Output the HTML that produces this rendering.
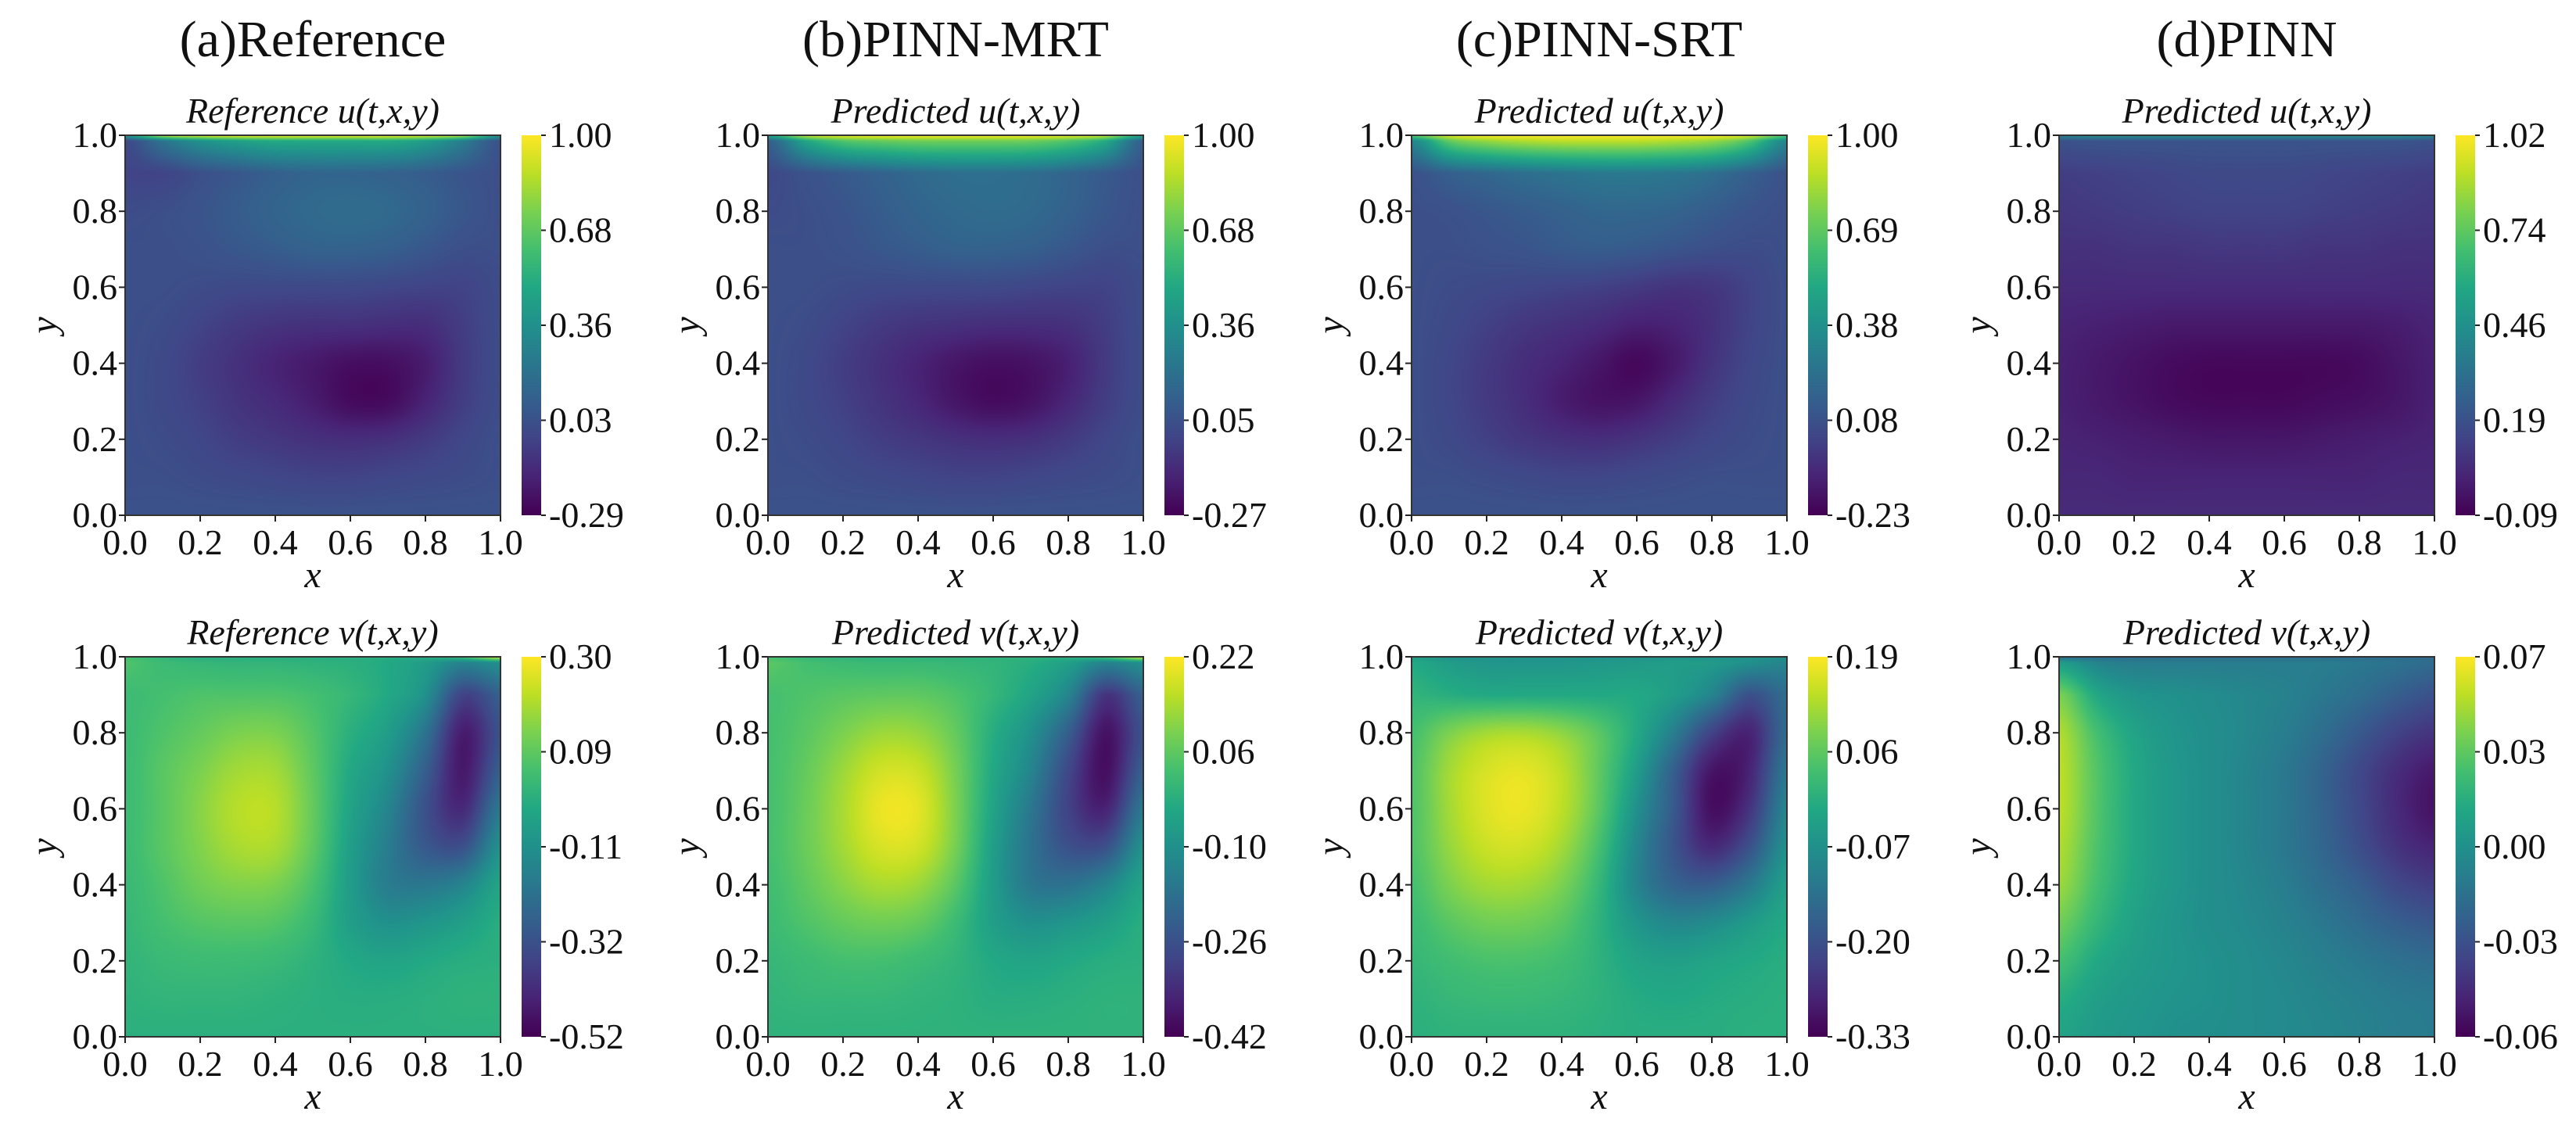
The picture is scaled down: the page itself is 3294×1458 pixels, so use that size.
<!DOCTYPE html>
<html><head><meta charset="utf-8">
<style>
html,body{margin:0;padding:0;background:#fff;}
#fig{position:relative;width:3294px;height:1458px;overflow:hidden;background:#fff;}
canvas{position:absolute;}
svg{position:absolute;left:0;top:0;}
text{font-family:"Liberation Serif",serif;fill:#111;}
</style></head>
<body>
<div id="fig">
<svg id="ov" width="3294" height="1458"></svg>
</div>
<script>
// ---- data (normalized colour level 0..1 within each colorbar range) ----
const gridX = [0,0.1,0.2,0.3,0.4,0.5,0.6,0.7,0.8,0.9,1.0];
const gridY = [1.0,0.985,0.9,0.8,0.7,0.6,0.5,0.4,0.3,0.2,0.1,0.0];
const columnTitles = ["(a)Reference","(b)PINN-MRT","(c)PINN-SRT","(d)PINN"];
const uSubtitles = ["Reference u(t,x,y)","Predicted u(t,x,y)","Predicted u(t,x,y)","Predicted u(t,x,y)"];
const vSubtitles = ["Reference v(t,x,y)","Predicted v(t,x,y)","Predicted v(t,x,y)","Predicted v(t,x,y)"];
const uTicks = [["1.00","0.68","0.36","0.03","-0.29"],["1.00","0.68","0.36","0.05","-0.27"],["1.00","0.69","0.38","0.08","-0.23"],["1.02","0.74","0.46","0.19","-0.09"]];
const vTicks = [["0.30","0.09","-0.11","-0.32","-0.52"],["0.22","0.06","-0.10","-0.26","-0.42"],["0.19","0.06","-0.07","-0.20","-0.33"],["0.07","0.03","0.00","-0.03","-0.06"]];
const axisTicks = ["0.0","0.2","0.4","0.6","0.8","1.0"];

const uRef = [
[0.55,0.9,0.97,1,1,1,1,1,0.97,0.9,0.55],
[0.22,0.38,0.5,0.56,0.6,0.6,0.6,0.6,0.55,0.42,0.25],
[0.2,0.2,0.24,0.27,0.3,0.32,0.32,0.31,0.29,0.26,0.24],
[0.23,0.24,0.26,0.29,0.32,0.34,0.35,0.34,0.31,0.27,0.24],
[0.24,0.24,0.25,0.27,0.29,0.31,0.31,0.3,0.27,0.24,0.24],
[0.24,0.24,0.23,0.22,0.22,0.22,0.22,0.21,0.2,0.2,0.23],
[0.24,0.23,0.2,0.17,0.15,0.14,0.14,0.13,0.13,0.18,0.23],
[0.24,0.22,0.18,0.14,0.1,0.07,0.04,0.04,0.08,0.17,0.23],
[0.24,0.22,0.19,0.15,0.12,0.08,0.03,0.03,0.1,0.18,0.23],
[0.24,0.23,0.21,0.18,0.16,0.14,0.13,0.14,0.17,0.21,0.24],
[0.24,0.24,0.23,0.22,0.21,0.2,0.2,0.21,0.22,0.23,0.24],
[0.25,0.25,0.25,0.25,0.25,0.25,0.25,0.25,0.25,0.25,0.25]];
const uMrt = [
[0.6,0.92,0.98,1,1,1,1,1,0.98,0.92,0.6],
[0.3,0.58,0.72,0.76,0.78,0.78,0.78,0.77,0.72,0.6,0.3],
[0.22,0.25,0.28,0.31,0.34,0.36,0.36,0.35,0.32,0.28,0.24],
[0.23,0.24,0.26,0.29,0.32,0.34,0.35,0.34,0.31,0.27,0.24],
[0.24,0.24,0.25,0.27,0.29,0.31,0.31,0.3,0.27,0.24,0.24],
[0.24,0.24,0.23,0.22,0.22,0.22,0.22,0.21,0.2,0.2,0.23],
[0.24,0.23,0.2,0.17,0.15,0.14,0.13,0.13,0.14,0.18,0.23],
[0.24,0.22,0.18,0.14,0.1,0.06,0.04,0.05,0.09,0.17,0.23],
[0.24,0.22,0.19,0.15,0.11,0.06,0.03,0.05,0.11,0.18,0.23],
[0.24,0.23,0.21,0.18,0.16,0.14,0.13,0.14,0.17,0.21,0.24],
[0.24,0.24,0.23,0.22,0.21,0.2,0.2,0.21,0.22,0.23,0.24],
[0.25,0.25,0.25,0.25,0.25,0.25,0.25,0.25,0.25,0.25,0.25]];
const uSrt = [
[0.75,0.95,1,1,1,1,1,1,1,0.95,0.75],
[0.45,0.75,0.84,0.88,0.9,0.9,0.9,0.88,0.84,0.72,0.45],
[0.25,0.3,0.33,0.36,0.38,0.4,0.4,0.39,0.36,0.3,0.25],
[0.24,0.25,0.27,0.29,0.31,0.33,0.33,0.32,0.29,0.26,0.24],
[0.24,0.24,0.25,0.26,0.28,0.29,0.28,0.26,0.24,0.23,0.24],
[0.24,0.23,0.22,0.21,0.2,0.19,0.17,0.15,0.16,0.2,0.24],
[0.24,0.22,0.19,0.16,0.14,0.12,0.09,0.1,0.14,0.2,0.24],
[0.24,0.21,0.17,0.13,0.1,0.06,0.02,0.07,0.15,0.21,0.24],
[0.24,0.21,0.17,0.13,0.08,0.05,0.06,0.12,0.18,0.22,0.24],
[0.24,0.22,0.19,0.16,0.14,0.13,0.15,0.18,0.21,0.23,0.24],
[0.24,0.24,0.23,0.22,0.21,0.21,0.22,0.23,0.24,0.24,0.24],
[0.25,0.25,0.25,0.25,0.25,0.25,0.25,0.25,0.25,0.25,0.25]];
const uPinn = [
[0.45,0.5,0.5,0.5,0.5,0.5,0.5,0.5,0.5,0.5,0.45],
[0.25,0.26,0.26,0.26,0.26,0.26,0.26,0.26,0.26,0.26,0.25],
[0.18,0.19,0.2,0.21,0.22,0.22,0.22,0.21,0.2,0.19,0.18],
[0.16,0.17,0.18,0.19,0.2,0.2,0.2,0.19,0.18,0.17,0.16],
[0.14,0.14,0.15,0.15,0.16,0.16,0.16,0.15,0.15,0.14,0.14],
[0.12,0.12,0.12,0.12,0.12,0.12,0.12,0.12,0.12,0.12,0.12],
[0.1,0.09,0.08,0.07,0.07,0.07,0.07,0.07,0.07,0.08,0.1],
[0.09,0.07,0.05,0.03,0.02,0.02,0.02,0.02,0.03,0.06,0.09],
[0.09,0.07,0.05,0.03,0.02,0.02,0.02,0.03,0.04,0.06,0.09],
[0.1,0.09,0.08,0.07,0.06,0.06,0.06,0.07,0.08,0.09,0.1],
[0.11,0.11,0.1,0.1,0.1,0.1,0.1,0.1,0.1,0.11,0.11],
[0.12,0.12,0.12,0.12,0.12,0.12,0.12,0.12,0.12,0.12,0.12]];
const vRef = [
[0.7,0.65,0.62,0.62,0.62,0.62,0.62,0.62,0.62,0.7,0.95],
[0.72,0.68,0.66,0.65,0.65,0.64,0.63,0.6,0.55,0.45,0.5],
[0.68,0.7,0.72,0.72,0.72,0.7,0.66,0.6,0.5,0.2,0.3],
[0.68,0.72,0.76,0.8,0.8,0.73,0.63,0.55,0.38,0.08,0.25],
[0.68,0.74,0.8,0.86,0.86,0.75,0.6,0.5,0.3,0.07,0.3],
[0.68,0.74,0.82,0.89,0.89,0.76,0.58,0.45,0.25,0.12,0.4],
[0.68,0.74,0.81,0.87,0.87,0.75,0.56,0.42,0.28,0.25,0.5],
[0.67,0.72,0.78,0.81,0.8,0.71,0.55,0.42,0.4,0.45,0.58],
[0.66,0.7,0.73,0.74,0.73,0.67,0.56,0.5,0.52,0.56,0.62],
[0.65,0.67,0.68,0.68,0.67,0.64,0.6,0.58,0.6,0.62,0.63],
[0.64,0.65,0.65,0.65,0.64,0.63,0.62,0.62,0.63,0.64,0.64],
[0.63,0.63,0.63,0.63,0.63,0.63,0.63,0.63,0.63,0.63,0.63]];
const vMrt = [
[0.7,0.66,0.64,0.64,0.64,0.64,0.64,0.64,0.64,0.72,0.95],
[0.74,0.7,0.68,0.67,0.67,0.66,0.65,0.62,0.56,0.45,0.5],
[0.7,0.72,0.74,0.75,0.75,0.72,0.66,0.58,0.45,0.15,0.3],
[0.7,0.74,0.8,0.85,0.84,0.76,0.62,0.5,0.3,0.05,0.25],
[0.7,0.76,0.85,0.93,0.92,0.79,0.6,0.45,0.22,0.04,0.3],
[0.7,0.77,0.87,0.97,0.96,0.8,0.58,0.4,0.2,0.1,0.4],
[0.7,0.77,0.86,0.94,0.93,0.79,0.56,0.38,0.25,0.25,0.5],
[0.69,0.75,0.82,0.87,0.85,0.74,0.55,0.4,0.38,0.45,0.58],
[0.68,0.72,0.76,0.78,0.76,0.68,0.56,0.5,0.52,0.56,0.62],
[0.66,0.68,0.7,0.7,0.68,0.65,0.6,0.58,0.6,0.62,0.63],
[0.65,0.66,0.66,0.66,0.65,0.64,0.62,0.62,0.63,0.64,0.64],
[0.64,0.64,0.64,0.64,0.64,0.64,0.64,0.64,0.64,0.64,0.64]];
const vSrt = [
[0.55,0.5,0.5,0.5,0.5,0.5,0.5,0.5,0.5,0.5,0.5],
[0.6,0.55,0.52,0.52,0.52,0.53,0.54,0.55,0.54,0.5,0.45],
[0.65,0.62,0.6,0.6,0.6,0.6,0.6,0.55,0.45,0.25,0.35],
[0.7,0.8,0.86,0.87,0.83,0.74,0.6,0.42,0.2,0.1,0.35],
[0.72,0.86,0.94,0.96,0.9,0.75,0.55,0.3,0.06,0.1,0.4],
[0.72,0.86,0.95,0.97,0.9,0.74,0.5,0.28,0.04,0.15,0.45],
[0.72,0.84,0.92,0.93,0.86,0.7,0.46,0.26,0.12,0.25,0.5],
[0.7,0.8,0.86,0.86,0.8,0.66,0.45,0.32,0.3,0.4,0.56],
[0.68,0.74,0.78,0.78,0.74,0.64,0.52,0.46,0.48,0.54,0.6],
[0.66,0.69,0.71,0.71,0.69,0.64,0.58,0.56,0.58,0.6,0.62],
[0.64,0.66,0.67,0.67,0.66,0.64,0.61,0.6,0.61,0.62,0.63],
[0.63,0.64,0.64,0.64,0.64,0.63,0.62,0.62,0.62,0.63,0.63]];
const vPinn = [
[0.35,0.35,0.35,0.35,0.35,0.35,0.35,0.35,0.35,0.35,0.35],
[0.55,0.45,0.42,0.42,0.42,0.42,0.42,0.42,0.4,0.38,0.35],
[0.8,0.6,0.52,0.5,0.48,0.46,0.44,0.4,0.36,0.3,0.25],
[0.88,0.7,0.58,0.52,0.49,0.46,0.42,0.36,0.28,0.2,0.15],
[0.9,0.73,0.6,0.53,0.49,0.45,0.4,0.32,0.22,0.13,0.07],
[0.9,0.73,0.6,0.53,0.49,0.45,0.4,0.32,0.22,0.12,0.05],
[0.88,0.72,0.6,0.53,0.49,0.45,0.4,0.33,0.24,0.15,0.1],
[0.85,0.7,0.59,0.53,0.49,0.46,0.42,0.36,0.3,0.22,0.18],
[0.78,0.66,0.57,0.52,0.49,0.47,0.44,0.4,0.35,0.3,0.27],
[0.7,0.6,0.55,0.52,0.5,0.48,0.46,0.43,0.4,0.37,0.35],
[0.62,0.56,0.53,0.51,0.5,0.48,0.47,0.45,0.43,0.41,0.4],
[0.58,0.54,0.52,0.5,0.49,0.48,0.47,0.46,0.44,0.42,0.41]];
const uFields = [uRef,uMrt,uSrt,uPinn];
const vFields = [vRef,vMrt,vSrt,vPinn];

// ---- layout ----
const colLeft = [160,982,1805,2633];
const rowTop = [173,840];
const PW = 480, PH = 486;
const viridis = [[68,1,84],[72,36,117],[65,68,135],[53,95,141],[42,120,142],[33,145,140],[34,168,132],[68,191,112],[122,209,81],[189,223,38],[253,231,37]];
function cmap(t){t=Math.max(0,Math.min(1,t));const f=t*10;const i=Math.min(9,Math.floor(f));const r=f-i;const a=viridis[i],b=viridis[i+1];return [a[0]+(b[0]-a[0])*r,a[1]+(b[1]-a[1])*r,a[2]+(b[2]-a[2])*r];}
function sx(x){return x*PW;}
function sy(y){return (1-y)*PH;}
function cr(p0,p1,p2,p3,t){return 0.5*((2*p1)+(-p0+p2)*t+(2*p0-5*p1+4*p2-p3)*t*t+(-p0+3*p1-3*p2+p3)*t*t*t);}
function rowInterp(row,i,fx){const n=row.length;const g=k=>row[Math.max(0,Math.min(n-1,k))];return cr(g(i-1),g(i),g(i+1),g(i+2),fx);}
function sample(g,x,y){
  let i=0;while(i<gridX.length-2&&x>gridX[i+1])i++;
  let j=0;while(j<gridY.length-2&&y<gridY[j+1])j++;
  let fx=(x-gridX[i])/(gridX[i+1]-gridX[i]);let fy=(gridY[j]-y)/(gridY[j]-gridY[j+1]);
  fx=Math.max(0,Math.min(1,fx));fy=Math.max(0,Math.min(1,fy));
  // Catmull-Rom along x, linear near lid rows, Catmull-Rom along y elsewhere
  const n=g.length;const R=k=>rowInterp(g[Math.max(0,Math.min(n-1,k))],i,fx);
  if(j<=1) return R(j)*(1-fy)+R(j+1)*fy;
  const p0=(j-1<=1)?R(j)+(R(j)-R(j+1)):R(j-1);
  return cr(p0,R(j),R(j+1),R(j+2),fy);
}
const fig=document.getElementById('fig');
const svg=document.getElementById('ov');
const NS='http://www.w3.org/2000/svg';
function T(x,y,s,size,anchor,style,name){const t=document.createElementNS(NS,'text');t.setAttribute('x',x);t.setAttribute('y',y);t.setAttribute('font-size',size);t.setAttribute('text-anchor',anchor);if(style)t.setAttribute('font-style',style);t.textContent=s;


svg.appendChild(t);return t;}
function L(x1,y1,x2,y2,w,c,name){const l=document.createElementNS(NS,'line');l.setAttribute('x1',x1);l.setAttribute('y1',y1);l.setAttribute('x2',x2);l.setAttribute('y2',y2);l.setAttribute('stroke',c);l.setAttribute('stroke-width',w);


svg.appendChild(l);}

function heat(left,top,g,name){
  const cv=document.createElement('canvas');cv.width=PW;cv.height=PH;cv.style.left=left+'px';cv.style.top=top+'px';
  
  
  const ctx=cv.getContext('2d');const im=ctx.createImageData(PW,PH);
  for(let py=0;py<PH;py++){const y=1-(py+0.5)/PH;for(let px=0;px<PW;px++){const x=(px+0.5)/PW;const c=cmap(sample(g,x,y));const k=(py*PW+px)*4;im.data[k]=c[0];im.data[k+1]=c[1];im.data[k+2]=c[2];im.data[k+3]=255;}}
  ctx.putImageData(im,0,0);fig.insertBefore(cv,svg);
}
function cbar(left,top,ticks,name){
  const cv=document.createElement('canvas');cv.width=25;cv.height=PH;cv.style.left=left+'px';cv.style.top=top+'px';
  
  
  const ctx=cv.getContext('2d');
  for(let py=0;py<PH;py++){const c=cmap(1-py/(PH-1));ctx.fillStyle=`rgb(${c[0]|0},${c[1]|0},${c[2]|0})`;ctx.fillRect(0,py,25,1);}
  fig.insertBefore(cv,svg);
  for(let k=0;k<ticks.length;k++){const yy=top+k*(PH)/(ticks.length-1);
    L(left+25,yy,left+31,yy,2,'#222',name+'-tick');
    T(left+35,yy+15,ticks[k],46,'start',null,name+'-label');}
}
function panel(ci,ri,g,sub,ticks,kind){
  const left=colLeft[ci],top=rowTop[ri];
  const nm=kind+'-panel-'+'abcd'[ci];
  heat(left,top,g,nm+'-heatmap');
  const r=document.createElementNS(NS,'rect');r.setAttribute('x',left);r.setAttribute('y',top);r.setAttribute('width',PW);r.setAttribute('height',PH);r.setAttribute('fill','none');r.setAttribute('stroke','#333');r.setAttribute('stroke-width',2);
  
  
  svg.appendChild(r);
  for(let k=0;k<axisTicks.length;k++){const v=k*0.2;
    const X=left+sx(v);L(X,top+PH,X,top+PH+8,2,'#222',nm+'-x-tick');
    T(X,top+PH+50,axisTicks[k],46,'middle',null,nm+'-x-tick-label');
    const Y=top+sy(v);L(left-8,Y,left,Y,2,'#222',nm+'-y-tick');
    T(left-10,Y+15,axisTicks[k],46,'end',null,nm+'-y-tick-label');}
  T(left+PW/2,top+PH+92,'x',48,'middle','italic',nm+'-x-axis-title');
  const yl=T(0,0,'y',48,'middle','italic',nm+'-y-axis-title');yl.setAttribute('transform',`translate(${left-100},${top+PH/2}) rotate(-90)`);yl.setAttribute('x',0);yl.setAttribute('y',12);
  T(left+PW/2,top-16,sub,46,'middle','italic',nm+'-subtitle');
  cbar(left+507,top,ticks,nm+'-colorbar');
}
for(let c=0;c<4;c++){
  T(colLeft[c]+240,72,columnTitles[c],66,'middle',null,'column-title-'+'abcd'[c]);
  panel(c,0,uFields[c],uSubtitles[c],uTicks[c],'u');
  panel(c,1,vFields[c],vSubtitles[c],vTicks[c],'v');
}
</script>
</body></html>
